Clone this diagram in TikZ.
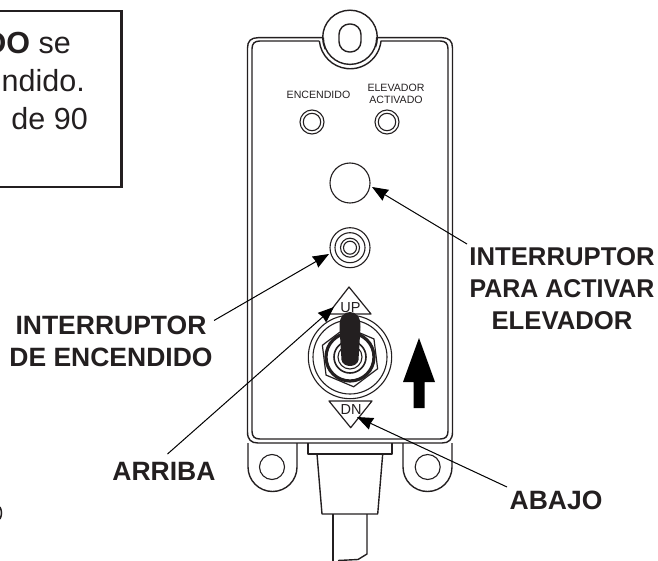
\documentclass[tikz,border=0pt]{standalone}
\usepackage{fontspec}
\setmainfont{Liberation Sans}
\usetikzlibrary{arrows.meta,shapes.geometric}
\definecolor{inkdark}{HTML}{231F20}
\tikzset{
  ring/.style      = {circle, draw=inkdark, fill=none, inner sep=0pt, line width=1.1pt},
  hull/.style      = {draw=inkdark, line width=1.4pt, line join=round},
  notebox/.style   = {draw=inkdark, line width=2.4pt, inner sep=0pt},
  notetxt/.style   = {anchor=base east, inner sep=0pt, text=inkdark, font=\fontsize{30.5}{30.5}\selectfont},
  callout/.style   = {align=center, anchor=base, inner sep=0pt, text=inkdark,
                      font=\fontsize{26.5}{32}\selectfont\bfseries},
  paneltxt/.style  = {align=center, anchor=base, inner sep=0pt, text=inkdark,
                      font=\fontsize{10.6}{12.4}\selectfont},
  dirtxt/.style    = {anchor=base, inner sep=0pt, text=inkdark, font=\fontsize{14.5}{14.5}\selectfont},
  leader/.style    = {-{Stealth[length=16pt,width=12.5pt,inset=1pt]}, draw=black, line width=1pt},
}
\begin{document}
\begin{tikzpicture}[x=1pt,y=-1pt]
  \useasboundingbox (0,0) rectangle (658,561);
  \clip (0,0) rectangle (658,561);

  % ---------- note box, cut by the page edge -----------------------------
  \node[notebox, minimum width=161pt, minimum height=176pt] (note) at (41,99) {};
  \node[notetxt] (noteA) at (71,54)  {\textbf{DO} se};
  \node[notetxt] (noteB) at (85,92)  {ndido.};
  \node[notetxt] (noteC) at (88,130) {de 90};
  \draw[line width=1.5pt, draw=inkdark] (0,507) .. controls (2,511) and (2,515) .. (0,519);

  % ---------- housing ----------------------------------------------------
  \node[ring, hull, minimum size=54.6pt] (ear) at (350,37.5) {};
  \node[draw=white, fill=white, minimum width=50pt, minimum height=30pt, inner sep=0pt] (earmask) at (350,56) {};
  \draw[hull] (323.3,37.7) -- (258,37.7) .. controls (251,37.7) and (247.5,41) .. (247.5,48)
    -- (247.5,432) .. controls (247.5,439.5) and (251,443) .. (258,443)
    -- (442,443) .. controls (449,443) and (452.5,439.5) .. (452.5,432)
    -- (452.5,48) .. controls (452.5,41) and (449,37.7) .. (442,37.7) -- (376.7,37.7)
    arc[start angle=0, end angle=180, radius=26.7];
  \draw[hull] (319,41) -- (260,41) .. controls (254.5,41) and (252,43.5) .. (252,49)
    -- (252,431) .. controls (252,436.5) and (254.5,439) .. (260,439)
    -- (440,439) .. controls (445.5,439) and (448,436.5) .. (448,431)
    -- (448,49) .. controls (448,43.5) and (445.5,41) .. (440,41) -- (381,41)
    arc[start angle=6, end angle=174, radius=31];
  \node[hull, draw, rounded corners=10.5pt, minimum width=22pt, minimum height=28pt, inner sep=0pt] (slot) at (350,38) {};

  % mounting lugs and cable
  \draw[hull] (248,443) -- (248,467) arc[start angle=180, end angle=0, radius=24.5] -- (297,443);
  \draw[hull] (403,443) -- (403,467) arc[start angle=180, end angle=0, radius=24.5] -- (452,443);
  \node[ring, minimum size=25pt] (lugL) at (272,467) {};
  \node[ring, minimum size=25pt] (lugR) at (427.7,467) {};
  \draw[hull] (308,443) -- (308,454) -- (392,454) -- (392,443);
  \draw[hull] (317,454) -- (322,514) -- (377.7,514) -- (382.7,454);
  \draw[hull] (333,514) -- (333,561);
  \draw[hull] (367,514) -- (367,554) -- (358,559.5) -- (338,560.5);

  % ---------- lamps, button, power switch --------------------------------
  \node[paneltxt] (lampA) at (318.5,99) {ENCENDIDO};
  \node[paneltxt] (lampB) at (396,104) {ELEVADOR\\ACTIVADO};
  \foreach \lx/\lname in {312/ledA,387/ledB} {
    \node[ring, minimum size=24pt]   (\lname) at (\lx,122) {};
    \node[ring, minimum size=17.4pt] (\lname i) at (\lx,122) {};
  }
  \node[ring, minimum size=40pt] (button) at (350,183) {};
  \foreach \sz/\sname in {40/pwrA,30/pwrB,19/pwrC,13/pwrD} {
    \node[ring, minimum size=\sz pt] (\sname) at (350,247.7) {};
  }

  % ---------- toggle switch ----------------------------------------------
  \draw[hull, line width=1.2pt] (349,287) -- (371,314) -- (328,314) -- cycle;
  \draw[hull, line width=1.2pt] (329,401) -- (372,401) -- (350.7,427.7) -- cycle;
  \node[dirtxt] (up) at (350.5,312) {UP};
  \node[dirtxt] (dn) at (351,414)   {DN};
  \node[ring, minimum size=83.4pt] (togA) at (350,357) {};
  \node[ring, minimum size=74pt]   (togB) at (350,357) {};
  \node[regular polygon, regular polygon sides=6, rotate=37, minimum size=60pt, inner sep=0pt,
        draw=inkdark, line width=1.2pt] (nut) at (350,357) {};
  \node[ring, line width=3.2pt, minimum size=48pt] (togC) at (350,357) {};
  \node[ring, line width=1.6pt, minimum size=32pt] (togD) at (350,357) {};
  \node[ring, minimum size=24pt] (togE) at (350,357) {};
  \fill[inkdark] (341.5,360) .. controls (343,368) and (357,368) .. (358.5,360)
    -- (360.5,327) .. controls (361,316) and (355,312) .. (350,312)
    .. controls (345,312) and (339,316) .. (339.5,327) -- cycle;

  % ---------- direction arrow --------------------------------------------
  \fill[black] (419,338) -- (435,382) -- (424.7,382) -- (424.7,408) -- (413.7,408) -- (413.7,382)
    -- (403,382) -- cycle;

  % ---------- callouts ---------------------------------------------------
  \node[callout] (lblPwr) at (111,366) {INTERRUPTOR\\DE ENCENDIDO};
  \node[callout, font=\fontsize{25.7}{32}\selectfont\bfseries] (lblBtn) at (562,329)
    {INTERRUPTOR\\\scalebox{.97}[1]{PARA ACTIVAR}\\ELEVADOR};
  \node[callout] (lblUp)  at (164,480) {ARRIBA};
  \node[callout] (lblDn)  at (556,509) {ABAJO};

  \coordinate (pwrTip) at (329,254);
  \coordinate (upTip)  at (334,307);
  \coordinate (btnTip) at (372,187);
  \coordinate (dnTip)  at (357,417);
  \coordinate (pwrEnd) at (214,320.5);
  \coordinate (upEnd)  at (167.5,454);
  \coordinate (btnEnd) at (467,244);
  \coordinate (dnEnd)  at (507,487);

  \draw[leader] (pwrEnd) -- (pwrTip);
  \draw[leader] (upEnd)  -- (upTip);
  \draw[leader] (btnEnd) -- (btnTip);
  \draw[leader] (dnEnd)  -- (dnTip);

\end{tikzpicture}
\end{document}
